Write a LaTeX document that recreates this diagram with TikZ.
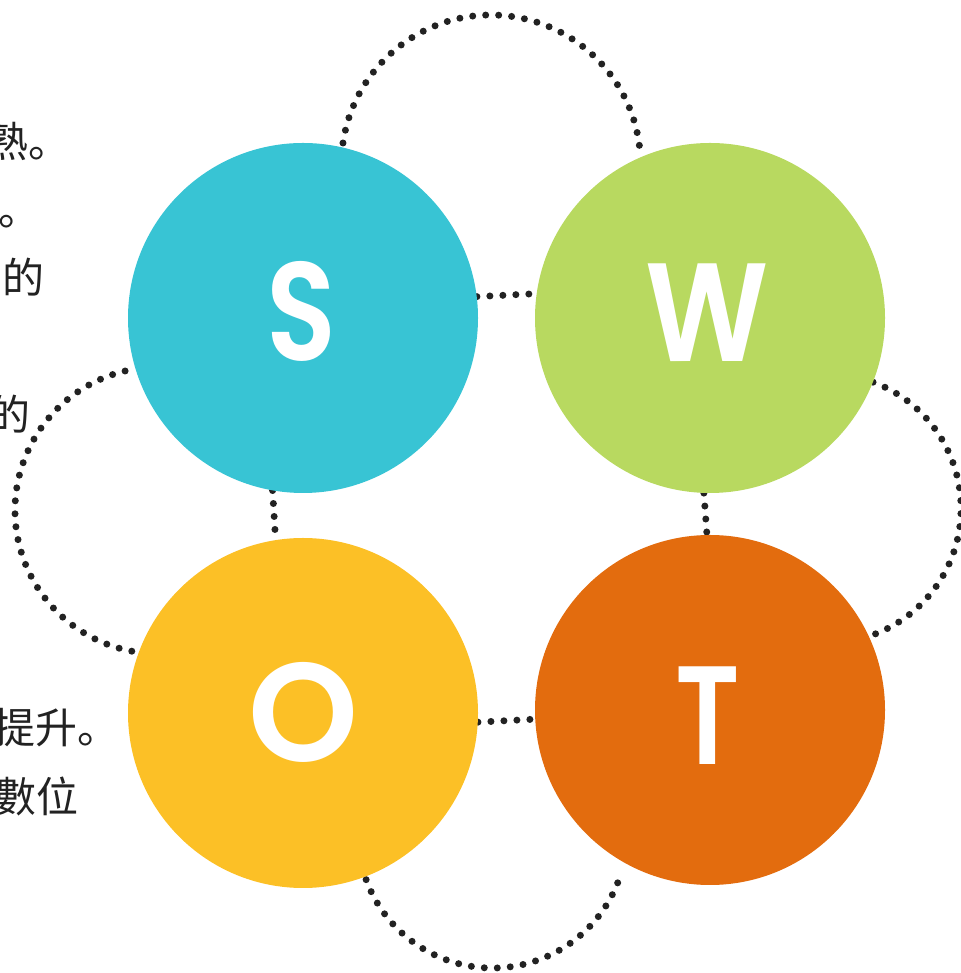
\documentclass[tikz,border=0pt]{standalone}
\usepackage{fontspec}
\newfontfamily\cjk{Noto Sans CJK SC}
\newfontfamily\swotfont{Poppins}[UprightFont=* SemiBold]
\usetikzlibrary{backgrounds}
\definecolor{cS}{HTML}{38C4D4}
\definecolor{cW}{HTML}{B8D960}
\definecolor{cO}{HTML}{FCC026}
\definecolor{cT}{HTML}{E36C0E}
\definecolor{ink}{HTML}{222222}
\begin{document}
\begin{tikzpicture}[x=1pt,y=1pt,
  dotline/.style={draw=ink, line width=7pt, line cap=round, dash pattern=on 0pt off 13pt},
  bubble/.style={circle, minimum size=350pt, inner sep=0pt, draw=none},
  letter/.style={inner sep=0pt, text=white, font=\swotfont\fontsize{140}{140}\selectfont},
  frag/.style={anchor=base west, inner sep=0pt, text=ink, font=\cjk\fontsize{42}{42}\selectfont}]
\useasboundingbox (0,0) rectangle (960,973);
\clip (0,0) rectangle (960,973);

% circles (y measured from the bottom: yT = 973 - y)
\node[bubble, fill=cS] (S) at (303,655) {};
\node[bubble, fill=cW] (W) at (710,655) {};
\node[bubble, fill=cO] (O) at (303,260) {};
\node[bubble, fill=cT] (T) at (710,263) {};

\node[letter, xscale=0.82] (lS) at (301,662) {S};
\node[letter, xscale=0.86] (lW) at (707,660) {W};
\node[letter, xscale=1.0] (lO) at (303,261) {O};
\node[letter, xscale=0.8] (lT) at (708,257) {T};

% arc centres
\coordinate (tc) at (491,808.4);
\coordinate (lc) at (158.3,462.6);
\coordinate (rc) at (826.3,464.5);
\coordinate (bc) at (492.5,139.6);

\begin{scope}[on background layer]
  \draw[dotline] (S.7.9) -- (W.172.1);
  \draw[dotline] (S.260.8) -- (O.99.2);
  \draw[dotline] (W.268.7) -- (T.91.3);
  \draw[dotline] (O.357.4) -- (T.183.6);
  \draw[dotline] ([shift={(171.7:149.6)}]tc) arc[start angle=171.7, end angle=5.6, radius=149.6];
  \draw[dotline] ([shift={(103.4:143.3)}]lc) arc[start angle=103.4, end angle=261.1, radius=143.3];
  \draw[dotline] ([shift={(69.7:134.7)}]rc) arc[start angle=69.7, end angle=-70.1, radius=134.7];
  \draw[dotline] ([shift={(200.1:134.6)}]bc) arc[start angle=200.1, end angle=342.7, radius=134.6];
\end{scope}

% cut-off text fragments at the left edge
\node[frag] (t1) at (-14,815) {熟。};
\node[frag] (t2) at (-2,747) {。};
\node[frag] (t3) at (2,679) {的};
\node[frag] (t4) at (-12,542) {的};
\node[frag] (t5) at (-7,229) {提升。};
\node[frag] (t6) at (-6,160) {數位};
\end{tikzpicture}
\end{document}
